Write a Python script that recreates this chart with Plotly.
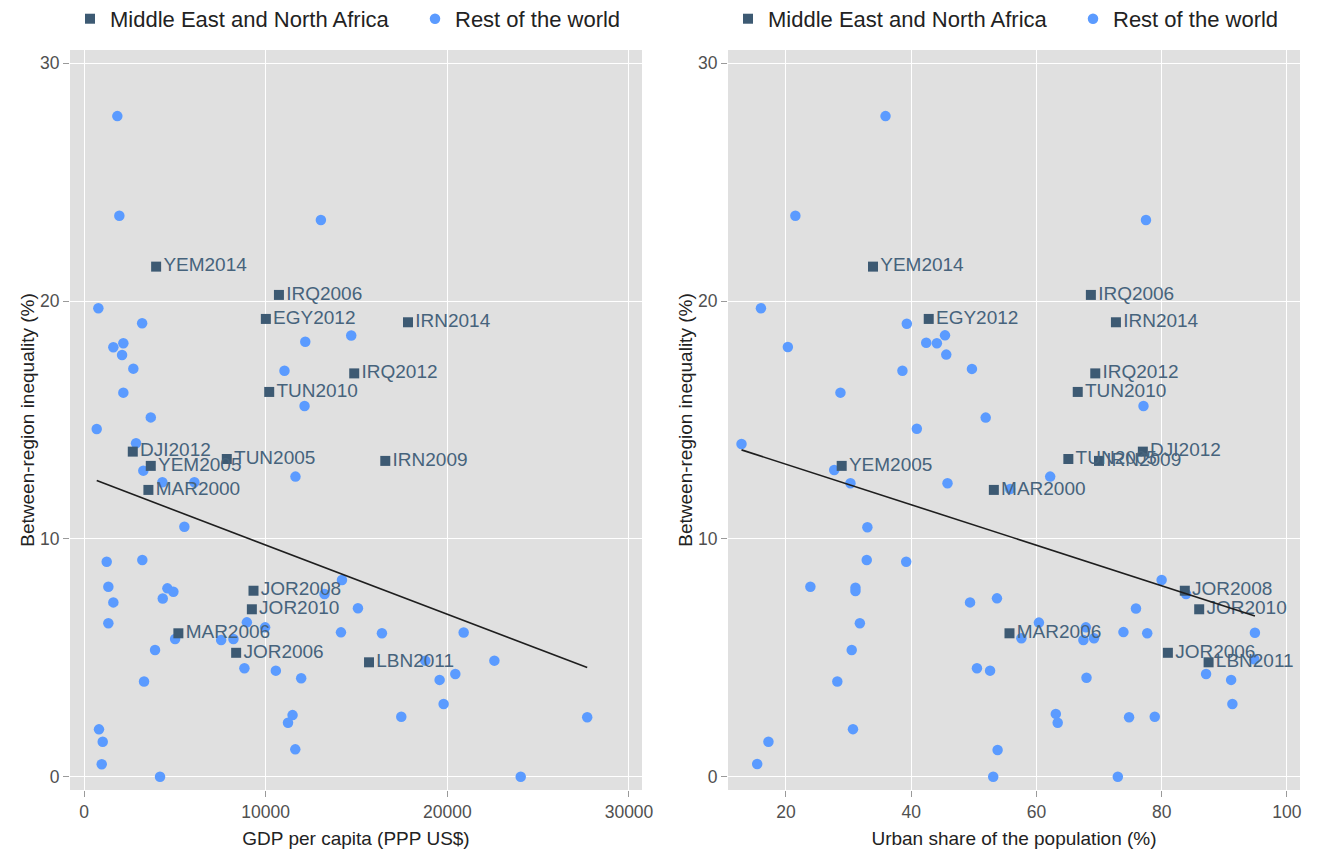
import numpy as np
import plotly.graph_objects as go

# ---- Rest of the world: GDP panel ----
gdp_rest = [1835, 1945, 13040, 790, 3200, 2165, 12180, 14710, 1615, 2095,
            2715, 11035, 2165, 12140, 3675, 700, 2865, 3265, 11640, 4315,
            6075, 5525, 3210, 1250, 14200, 1340, 4590, 4920, 13240, 4335,
            1615, 15080, 8965, 1340, 9970, 14145, 20900, 16400, 5015, 8225,
            7550, 3910, 22590, 18790, 8830, 10560, 20440, 11955, 19575, 3305,
            19795, 11480, 17465, 27700, 11230, 825, 1030, 11630, 975, 4185,
            24040]
ineq_rest_gdp = [27.78, 23.59, 23.41, 19.70, 19.07, 18.23, 18.29, 18.55, 18.06, 17.73,
                 17.16, 17.07, 16.15, 15.59, 15.11, 14.62, 14.02, 12.87, 12.62, 12.38,
                 12.38, 10.51, 9.11, 9.04, 8.27, 7.99, 7.92, 7.78, 7.68, 7.49,
                 7.33, 7.08, 6.49, 6.45, 6.28, 6.07, 6.06, 6.03, 5.79, 5.79,
                 5.75, 5.33, 4.88, 4.88, 4.56, 4.46, 4.32, 4.14, 4.07, 4.00,
                 3.06, 2.59, 2.52, 2.50, 2.27, 1.99, 1.47, 1.15, 0.52, 0.00,
                 0.00]

# ---- Rest of the world: urban panel ----
urban_rest = [35.9, 21.5, 77.5, 16.0, 39.3, 42.4, 44.1, 45.4, 20.3, 45.6,
              49.7, 38.6, 28.7, 77.1, 51.9, 40.9, 12.9, 27.7, 62.2, 30.3,
              45.8, 55.8, 33.0, 32.9, 39.2, 80.0, 23.9, 31.1, 31.1, 83.9,
              53.7, 49.4, 75.9, 60.4, 31.8, 67.9, 73.9, 94.9, 77.7, 57.6,
              69.2, 67.5, 30.5, 94.8, 50.5, 52.6, 87.1, 68.0, 91.1, 28.2,
              91.3, 63.1, 74.8, 78.9, 63.4, 30.7, 17.2, 53.8, 15.4, 53.1,
              73.0]
ineq_rest_urban = [27.78, 23.59, 23.41, 19.70, 19.05, 18.25, 18.23, 18.56, 18.07, 17.75,
                   17.15, 17.07, 16.15, 15.59, 15.10, 14.63, 13.99, 12.90, 12.62, 12.34,
                   12.34, 12.10, 10.49, 9.11, 9.04, 8.27, 7.99, 7.95, 7.81, 7.68,
                   7.50, 7.33, 7.07, 6.48, 6.45, 6.28, 6.08, 6.05, 6.03, 5.82,
                   5.82, 5.75, 5.33, 4.94, 4.56, 4.46, 4.32, 4.16, 4.07, 4.00,
                   3.06, 2.64, 2.50, 2.52, 2.27, 2.00, 1.47, 1.12, 0.53, 0.00,
                   0.00]

# ---- Middle East and North Africa surveys ----
mena_labels = ["YEM2014", "IRQ2006", "EGY2012", "IRN2014", "IRQ2012", "TUN2010",
               "DJI2012", "TUN2005", "YEM2005", "MAR2000", "IRN2009", "JOR2008",
               "JOR2010", "MAR2006", "JOR2006", "LBN2011"]
mena_gdp = [3970, 10730, 10010, 17835, 14875, 10195, 2685, 7860, 3675, 3545,
            16585, 9330, 9240, 5195, 8375, 15690]
mena_urban = [33.9, 68.7, 42.8, 72.7, 69.4, 66.6, 77.0, 65.1, 28.9, 53.2,
              70.0, 83.7, 86.0, 55.7, 81.0, 87.5]
mena_ineq = [21.45, 20.26, 19.25, 19.11, 16.96, 16.18, 13.67, 13.36, 13.07, 12.06,
             13.28, 7.82, 7.04, 6.03, 5.21, 4.81]

y_ticks = [0, 10, 20, 30]
gdp_ticks = [0, 10000, 20000, 30000]
urban_ticks = [20, 40, 60, 80, 100]

FONT = "Arial, Liberation Sans, sans-serif"
MENA_COLOR = "#3d5a73"
LABEL_COLOR = "#46637c"
REST_COLOR = "#5b9bff"
W, H = 1322, 851


def fit_line(xs, ys):
    """OLS fit over all observations, drawn across the observed x range."""
    xs = np.asarray(xs, float)
    ys = np.asarray(ys, float)
    b, a = np.polyfit(xs, ys, 1)
    xr = np.array([xs.min(), xs.max()])
    return xr, a + b * xr


fig = go.Figure()

panels = [
    ("x", "y", "legend", gdp_rest, ineq_rest_gdp, mena_gdp),
    ("x2", "y2", "legend2", urban_rest, ineq_rest_urban, mena_urban),
]
for xa, ya, leg, xr, yr, xm in panels:
    fig.add_trace(go.Scatter(
        x=xr, y=yr, mode="markers", name="Rest of the world",
        marker=dict(symbol="circle", size=10.5, color=REST_COLOR),
        xaxis=xa, yaxis=ya, legend=leg, legendrank=2, hoverinfo="skip"))
    fig.add_trace(go.Scatter(
        x=xm, y=mena_ineq, mode="markers+text", name="Middle East and North Africa",
        text=mena_labels, textposition="middle right",
        textfont=dict(family=FONT, size=19, color=LABEL_COLOR),
        marker=dict(symbol="square", size=10, color=MENA_COLOR),
        xaxis=xa, yaxis=ya, legend=leg, legendrank=1, hoverinfo="skip"))
    lx, ly = fit_line(list(xr) + list(xm), list(yr) + list(mena_ineq))
    fig.add_trace(go.Scatter(
        x=lx, y=ly, mode="lines", line=dict(color="#1e1e1e", width=1.6),
        xaxis=xa, yaxis=ya, showlegend=False, hoverinfo="skip"))

plot_left = [70, 728]
plot_w = 572
dom1 = [plot_left[0] / W, (plot_left[0] + plot_w) / W]
dom2 = [plot_left[1] / W, (plot_left[1] + plot_w) / W]

axis_common = dict(
    showgrid=True, gridcolor="white", gridwidth=1.2, zeroline=False,
    showline=False, ticks="outside", ticklen=6, tickwidth=1.2, tickcolor="#9a9a9a",
    tickfont=dict(family=FONT, size=17.5, color="#505050"),
)
yaxis_common = dict(axis_common, range=[-0.56, 30.56], tickvals=y_ticks,
                    title=dict(text="Between-region inequality (%)",
                               font=dict(family=FONT, size=19, color="#222222"),
                               standoff=0))

legend_common = dict(
    orientation="h", yanchor="middle", y=1.042, xanchor="left",
    font=dict(family=FONT, size=22, color="#222222"),
    bgcolor="rgba(0,0,0,0)", itemwidth=30, entrywidth=300, entrywidthmode="pixels",
    traceorder="normal",
)

fig.update_layout(
    width=W, height=H,
    margin=dict(l=0, r=0, t=50, b=61, autoexpand=False),
    paper_bgcolor="white", plot_bgcolor="#e0e0e0",
    font=dict(family=FONT),
    xaxis=dict(axis_common, domain=dom1, range=[-771, 30716], tickvals=gdp_ticks,
               tickformat="d",
               title=dict(text="GDP per capita (PPP US$)",
                          font=dict(family=FONT, size=19, color="#222222"), standoff=10)),
    xaxis2=dict(axis_common, domain=dom2, range=[10.74, 102.1], tickvals=urban_ticks,
                anchor="y2",
                title=dict(text="Urban share of the population (%)",
                           font=dict(family=FONT, size=19, color="#222222"), standoff=10)),
    yaxis=dict(yaxis_common, anchor="x"),
    yaxis2=dict(yaxis_common, anchor="x2"),
    legend=dict(legend_common, x=dom1[0]),
    legend2=dict(legend_common, x=dom2[0]),
    showlegend=True,
)

fig.write_html("out.html")
